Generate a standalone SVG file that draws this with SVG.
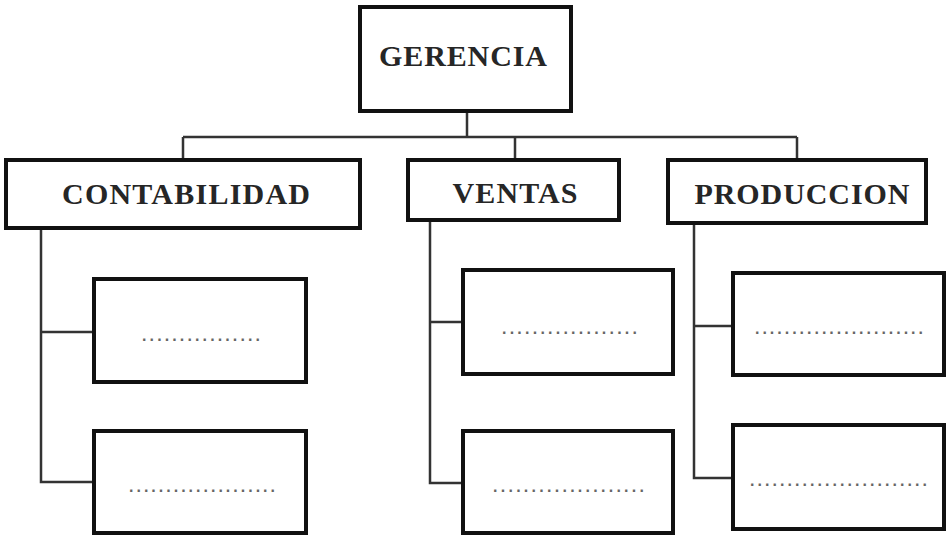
<svg xmlns="http://www.w3.org/2000/svg" width="948" height="538" viewBox="0 0 948 538">
<style>
.box{fill:#fff;stroke:#111;stroke-width:4}
.lbl{font-family:"Liberation Serif","Times New Roman",serif;font-weight:bold;font-size:30px;fill:#262626;text-anchor:middle}
.dots{font-family:"Liberation Sans",Arial,sans-serif;font-size:16px;fill:#666;font-weight:bold}
.conn{fill:none;stroke:#333;stroke-width:2.5}
</style>
<rect width="948" height="538" fill="#fff"/>
<g id="connectors" class="conn">
<path d="M467 113V137M183 137H797M183 137V158M515 137V158M797 137V158"/>
<path d="M41 230V482H92M41 332H92"/>
<path d="M430 222V483H461M430 322H461"/>
<path d="M694 225V478H731M694 326H731"/>
</g>
<g id="gerencia"><rect class="box" x="360" y="7" width="211" height="104"/><text class="lbl" x="463" y="66" font-size="31" textLength="168" lengthAdjust="spacing">GERENCIA</text></g>
<g id="contabilidad"><rect class="box" x="6" y="160" width="354" height="68"/><text class="lbl" x="186" y="204" textLength="248" lengthAdjust="spacing">CONTABILIDAD</text></g>
<g id="ventas"><rect class="box" x="408" y="160" width="211" height="60"/><text class="lbl" x="515" y="203" textLength="125" lengthAdjust="spacing">VENTAS</text></g>
<g id="produccion"><rect class="box" x="668" y="160" width="258" height="63"/><text class="lbl" x="802" y="204" textLength="215" lengthAdjust="spacing">PRODUCCION</text></g>
<g id="contabilidad-1"><rect class="box" x="94" y="279" width="212" height="103"/><text class="dots" x="142" y="341" textLength="118" lengthAdjust="spacing">................</text></g>
<g id="contabilidad-2"><rect class="box" x="94" y="431" width="212" height="102"/><text class="dots" x="129" y="492" textLength="146" lengthAdjust="spacing">....................</text></g>
<g id="ventas-1"><rect class="box" x="463" y="270" width="210" height="104"/><text class="dots" x="502" y="334" textLength="135" lengthAdjust="spacing">..................</text></g>
<g id="ventas-2"><rect class="box" x="463" y="431" width="210" height="102"/><text class="dots" x="493" y="492" textLength="151" lengthAdjust="spacing">....................</text></g>
<g id="produccion-1"><rect class="box" x="733" y="273" width="211" height="102"/><text class="dots" x="755" y="334" textLength="168" lengthAdjust="spacing">.......................</text></g>
<g id="produccion-2"><rect class="box" x="733" y="425" width="211" height="104"/><text class="dots" x="750" y="486" textLength="177" lengthAdjust="spacing">........................</text></g>
</svg>
